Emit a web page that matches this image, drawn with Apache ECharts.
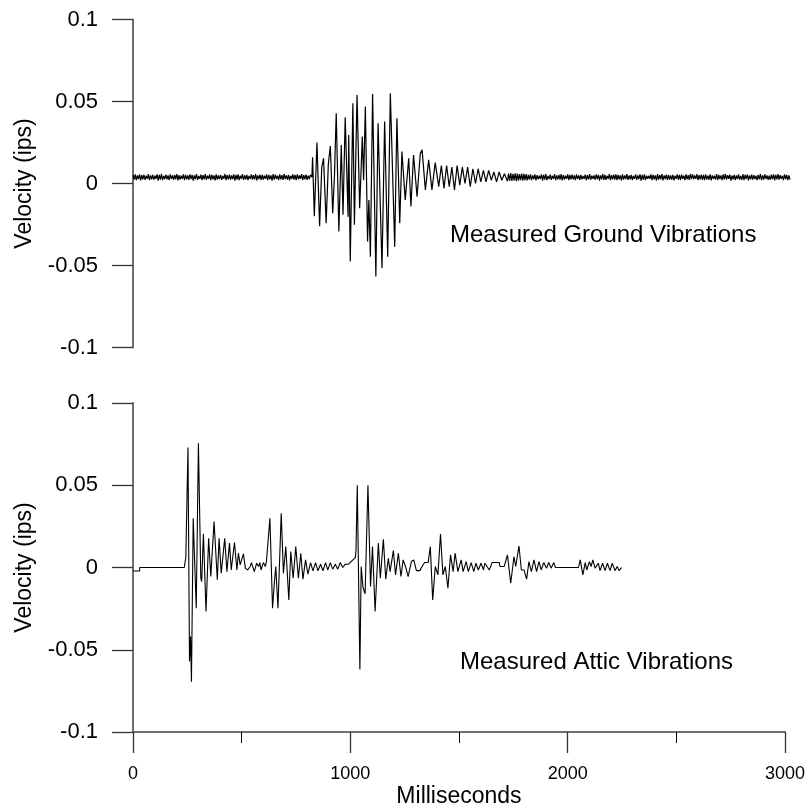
<!DOCTYPE html>
<html>
<head>
<meta charset="utf-8">
<script src="https://cdn.jsdelivr.net/npm/echarts@6/dist/echarts.min.js"></script>
<style>
html,body{margin:0;padding:0;background:#fff;}
#chart{width:808px;height:810px;}
</style>
</head>
<body>
<div id="chart"></div>
<script>
// ---------- axis ticks ----------
const xTicks = [0, 1000, 2000, 3000];
const yTicks = [-0.1, -0.05, 0, 0.05, 0.1];
const xName = 'Milliseconds';
const yName = 'Velocity (ips)';
const groundLabel = 'Measured Ground Vibrations';
const atticLabel = 'Measured Attic Vibrations';

// ---------- ground: background noise before the burst (every 5 ms from 0 ms) ----------
const groundPreStart = 0;
const groundNoiseStep = 5;
const groundPreNoise = [
0.0052,0.0024,0.0055,0.0021,0.0049,0.0027,0.0056,0.0019,0.0051,0.0025,
0.0054,0.0022,0.0047,0.0028,0.0057,0.0020,0.0050,0.0026,0.0053,0.0023,
0.0048,0.0029,0.0055,0.0018,0.0052,0.0024,0.0058,0.0021,0.0046,0.0027,
0.0054,0.0025,0.0050,0.0020,0.0056,0.0028,0.0049,0.0022,0.0053,0.0026,
0.0057,0.0019,0.0051,0.0024,0.0047,0.0029,0.0055,0.0021,0.0052,0.0025,
0.0049,0.0023,0.0056,0.0027,0.0053,0.0018,0.0050,0.0026,0.0058,0.0022,
0.0046,0.0028,0.0054,0.0020,0.0051,0.0025,0.0057,0.0023,0.0048,0.0029,
0.0055,0.0021,0.0052,0.0026,0.0049,0.0019,0.0056,0.0024,0.0050,0.0027,
0.0053,0.0022,0.0047,0.0028,0.0058,0.0020,0.0051,0.0025,0.0054,0.0023,
0.0049,0.0027,0.0056,0.0018,0.0052,0.0024,0.0055,0.0021,0.0048,0.0029,
0.0057,0.0022,0.0050,0.0026,0.0053,0.0020,0.0046,0.0028,0.0055,0.0023,
0.0051,0.0025,0.0058,0.0019,0.0049,0.0027,0.0054,0.0022,0.0052,0.0024,
0.0047,0.0029,0.0056,0.0021,0.0053,0.0026,0.0050,0.0018,0.0057,0.0023,
0.0054,0.0028,0.0048,0.0020,0.0055,0.0025,0.0051,0.0022,0.0058,0.0027,
0.0050,0.0024,0.0053,0.0019,0.0047,0.0029,0.0056,0.0023,0.0052,0.0021,
0.0055,0.0026,0.0049,0.0028,0.0057,0.0020,0.0051,0.0025,0.0054,0.0022,
0.0048,0.0027,0.0053
];

// ---------- ground: burst (ms, ips) ----------
const groundBurstT = [817,820,828,840,852,862,870,882,892,901,912,920,928,940,951,959,969,982,985,992,
1004,1011,1023,1035,1042,1047,1053,1061,1071,1077,1084,1094,1109,1119,1137,1149,1163,1175,1195,1205,
1218,1228,1243,1259,1269,1281,1297,1312,1320,1335,1350,1365,1380,1396,1408,1420,1432,1444,1456,1468,
1480,1492,1504,1516,1528,1540,1552,1564,1576,1588,1600,1612,1624,1636,1648,1660,1672,1684,1696];
const groundBurstV = [0.0038,0.016,-0.020,0.025,-0.026,0.010,0.0154,-0.0242,0.012,0.0229,-0.0181,0.005,0.0428,-0.0293,0.0235,-0.0191,0.0404,-0.0202,0.0296,-0.0476,
0.0489,-0.0252,0.054,-0.0151,0.010,0.0286,0.002,0.0469,-0.0354,-0.010,-0.0446,0.0546,-0.0567,0.0367,-0.0517,0.0378,-0.0446,0.055,-0.0385,0.0398,
-0.0242,0.0195,-0.010,0.0154,-0.014,0.0174,-0.008,0.0185,0.0205,-0.0039,0.0144,-0.0039,0.0128,-0.0019,0.011,-0.003,0.011,-0.002,0.010,-0.004,
0.011,-0.001,0.010,0.000,0.010,-0.002,0.009,0.000,0.009,0.001,0.008,0.001,0.008,0.002,0.007,0.001,0.007,0.002,0.006];

// ---------- ground: noise after the burst (every 5 ms from 1705 ms) ----------
const groundPostStart = 1705;
const groundPostNoise = [
0.0064,0.0014,0.0061,0.0017,0.0063,0.0016,0.0059,0.0019,0.0062,0.0015,
0.0060,0.0018,0.0058,0.0020,0.0061,0.0017,0.0059,0.0021,0.0057,0.0019,
0.0052,0.0024,0.0055,0.0021,0.0049,0.0027,0.0056,0.0019,0.0051,0.0025,
0.0048,0.0029,0.0055,0.0018,0.0052,0.0024,0.0058,0.0021,0.0046,0.0027,
0.0054,0.0022,0.0047,0.0028,0.0057,0.0020,0.0050,0.0026,0.0053,0.0023,
0.0057,0.0019,0.0051,0.0024,0.0047,0.0029,0.0055,0.0021,0.0052,0.0025,
0.0054,0.0025,0.0050,0.0020,0.0056,0.0028,0.0049,0.0022,0.0053,0.0026,
0.0046,0.0028,0.0054,0.0020,0.0051,0.0025,0.0057,0.0023,0.0048,0.0029,
0.0049,0.0023,0.0056,0.0027,0.0053,0.0018,0.0050,0.0026,0.0058,0.0022,
0.0053,0.0022,0.0047,0.0028,0.0058,0.0020,0.0051,0.0025,0.0054,0.0023,
0.0055,0.0021,0.0052,0.0026,0.0049,0.0019,0.0056,0.0024,0.0050,0.0027,
0.0057,0.0022,0.0050,0.0026,0.0053,0.0020,0.0046,0.0028,0.0055,0.0023,
0.0049,0.0027,0.0056,0.0018,0.0052,0.0024,0.0055,0.0021,0.0048,0.0029,
0.0047,0.0029,0.0056,0.0021,0.0053,0.0026,0.0050,0.0018,0.0057,0.0023,
0.0051,0.0025,0.0058,0.0019,0.0049,0.0027,0.0054,0.0022,0.0052,0.0024,
0.0050,0.0024,0.0053,0.0019,0.0047,0.0029,0.0056,0.0023,0.0052,0.0021,
0.0054,0.0028,0.0048,0.0020,0.0055,0.0025,0.0051,0.0022,0.0058,0.0027,
0.0055,0.0026,0.0049,0.0028,0.0057,0.0020,0.0051,0.0025,0.0054,0.0022,
0.0052,0.0021,0.0056,0.0025,0.0048,0.0023,0.0055,0.0019,0.0050,0.0028,
0.0047,0.0024,0.0057,0.0022,0.0053,0.0027,0.0049,0.0020,0.0056,0.0025,
0.0058,0.0023,0.0051,0.0029,0.0054,0.0018,0.0048,0.0026,0.0053,0.0021,
0.0050,0.0027,0.0055,0.0024,0.0046,0.0022,0.0057,0.0020,0.0052,0.0028,
0.0056,0.0019,0.0049,0.0025,0.0054,0.0023,0.0051,0.0027,0.0047,0.0021,
0.0053,0.0026,0.0058,0.0020,0.0050,0.0024,0.0055,0.0028,0.0049,0.0022,
0.0048,0.0022,0.0054,0.0027,0.0056,0.0019,0.0052,0.0025,0.0057,0.0023,
0.0051,0.0028,0.0047,0.0021,0.0055,0.0026,0.0053,0.0020,0.0049,0.0024
];

// ---------- attic (ms, ips) ----------
const atticT = [0,30,31,236,243,253,260,265,269,277,291,301,312,316,324,336,348,358,373,388,
396,406,422,432,444,452,467,478,485,493,508,517,528,539,545,552,558,564,569,578,
584,589,600,609,614,620,630,642,650,657,667,682,692,703,717,726,737,749,761,772,
782,794,805,817,828,840,851,863,874,886,896,908,919,931,942,954,965,977,992,1007,
1023,1026,1032,1044,1050,1058,1068,1081,1093,1102,1114,1129,1138,1152,1163,1175,1183,1198,1208,1221,
1233,1243,1254,1266,1281,1292,1304,1320,1330,1342,1358,1368,1379,1391,1403,1415,1426,1437,1449,1461,
1473,1482,1495,1510,1519,1533,1543,1556,1568,1578,1589,1601,1613,1619,1629,1639,1647,1652,1685,1689,
1708,1723,1738,1753,1761,1776,1787,1799,1811,1822,1833,1845,1857,1868,1878,1890,1903,1913,1924,1936,
1944,2050,2058,2070,2081,2088,2100,2108,2116,2126,2141,2149,2161,2172,2183,2195,2205,2218,2228,2237,2248];
const atticV = [-0.0021,-0.0021,0,0,0.006,0.073,-0.0572,-0.042,-0.0694,0.030,-0.0248,0.0756,-0.0065,-0.0086,0.0204,-0.0268,0.0178,-0.0055,0.028,-0.0075,
0.0178,-0.0035,0.0178,-0.0025,0.0148,-0.0015,0.0152,-0.0015,0.0087,0.0016,0.0083,-0.0004,-0.0015,0.0006,0.0030,0.0030,-0.0025,-0.0025,0.0026,0.0006,
0.0030,-0.0015,0.0030,0.0006,0.0036,0.0046,0.030,-0.0248,-0.010,0.0006,-0.0248,0.033,-0.0035,0.0127,-0.0197,0.0097,-0.0065,0.0127,-0.0065,0.0087,
-0.0071,0.0046,-0.004,0.003,-0.002,0.003,-0.002,0.002,-0.002,0.003,-0.0015,0.003,-0.001,0.002,-0.001,0.003,0.000,0.002,0.002,0.004,
0.006,0.010,0.050,-0.062,0.0006,-0.012,-0.016,0.050,-0.0116,0.0127,-0.0268,0.0148,-0.0065,0.0172,-0.0071,0.0056,-0.0025,0.0103,-0.0045,0.0087,
-0.0055,0.0046,0.0006,-0.0055,0.0036,0.0046,-0.0019,-0.0019,0.0006,0.003,0.003,0.0127,-0.0197,0.0006,-0.0045,0.0204,-0.0045,0.0006,-0.0126,0.0077,
-0.0025,0.0087,-0.0025,0.0046,-0.0025,0.0036,-0.0025,0.003,-0.0025,0.0026,-0.0015,0.0026,-0.0015,0.0026,0.0006,-0.0015,0.001,0.003,0.003,0.0006,
0.0006,0.0077,-0.0096,0.0067,0.0006,0.0131,-0.0015,-0.0015,-0.0071,0.0036,-0.0025,0.0046,-0.0025,0.0036,-0.0015,0.003,-0.0004,0.003,-0.0004,0.003,
0,0,0.0046,-0.0045,0.003,-0.0015,0.0036,0.0006,0.0046,-0.0004,0.0026,-0.0019,0.0026,-0.0019,0.0026,-0.0019,0.0026,-0.0019,0.0006,-0.0019,0];

// ---------- build series data ----------
const groundData = [];
groundPreNoise.forEach((v, i) => groundData.push([groundPreStart + i * groundNoiseStep, v]));
groundBurstT.forEach((t, i) => groundData.push([t, groundBurstV[i]]));
groundPostNoise.forEach((v, i) => groundData.push([groundPostStart + i * groundNoiseStep, v]));
const atticData = atticT.map((t, i) => [t, atticV[i]]);

const FONT = '"Liberation Sans", Arial, sans-serif';
const axisGray = '#6e6e6e';

function yAxisCfg(gi) {
  return {
    gridIndex: gi, type: 'value',
    min: yTicks[0], max: yTicks[yTicks.length - 1], interval: yTicks[1] - yTicks[0],
    axisLine: { show: true, onZero: false, lineStyle: { color: axisGray, width: 2 } },
    axisTick: { show: true, inside: false, length: 21, lineStyle: { color: '#333', width: 1.3 } },
    axisLabel: { margin: 35, fontSize: 22, color: '#000', fontFamily: FONT, formatter: v => String(v) },
    splitLine: { show: false },
    name: yName, nameLocation: 'middle', nameRotate: 90, nameGap: 97,
    nameTextStyle: { fontSize: 23, color: '#000', fontFamily: FONT }
  };
}

const chart = echarts.init(document.getElementById('chart'), null, { renderer: 'canvas' });
chart.setOption({
  animation: false,
  backgroundColor: '#fff',
  grid: [
    { left: 133, top: 19.5, width: 657, height: 328 },
    { left: 133, top: 403, width: 657, height: 329 }
  ],
  xAxis: [
    { gridIndex: 0, type: 'value', min: xTicks[0], max: xTicks[xTicks.length - 1], show: false },
    {
      gridIndex: 1, type: 'value', min: xTicks[0], max: xTicks[xTicks.length - 1], interval: xTicks[1] - xTicks[0],
      axisLine: { show: true, onZero: false, lineStyle: { color: axisGray, width: 2 } },
      axisTick: { show: true, inside: false, length: 21, lineStyle: { color: '#333', width: 1.3 } },
      minorTick: { show: true, splitNumber: 2, length: 11, lineStyle: { color: '#000', width: 1 } },
      axisLabel: { margin: 33, fontSize: 18, color: '#000', fontFamily: FONT, formatter: v => String(v) },
      splitLine: { show: false },
      name: xName, nameLocation: 'middle', nameGap: 53,
      nameTextStyle: { fontSize: 23, color: '#000', fontFamily: FONT }
    }
  ],
  yAxis: [yAxisCfg(0), yAxisCfg(1)],
  series: [
    { type: 'line', xAxisIndex: 0, yAxisIndex: 0, data: groundData, showSymbol: false, symbol: 'none',
      lineStyle: { color: '#000', width: 1.2 }, clip: false },
    { type: 'line', xAxisIndex: 1, yAxisIndex: 1, data: atticData, showSymbol: false, symbol: 'none',
      lineStyle: { color: '#000', width: 1.1 }, clip: false }
  ],
  graphic: [
    { type: 'text', x: 450, y: 235, style: { text: groundLabel, font: '24px ' + FONT, fill: '#000', verticalAlign: 'middle' } },
    { type: 'text', x: 460, y: 662, style: { text: atticLabel, font: '24px ' + FONT, fill: '#000', verticalAlign: 'middle' } }
  ]
});
</script>
</body>
</html>
